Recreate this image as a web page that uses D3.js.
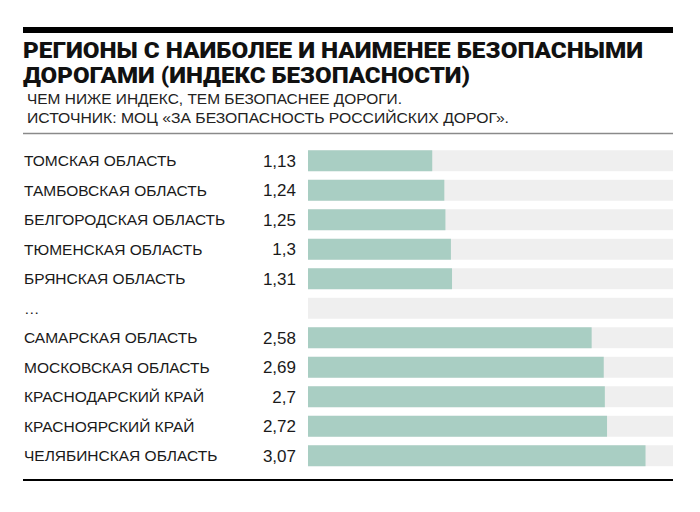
<!DOCTYPE html>
<html>
<head>
<meta charset="utf-8">
<script src="https://cdn.jsdelivr.net/npm/d3@7"></script>
<style>
  body { margin: 0; background: #fff; }
  svg { display: block; }
</style>
</head>
<body>
<div id="chart"></div>
<script>
// Chart data
const regions = [
  "ТОМСКАЯ ОБЛАСТЬ",
  "ТАМБОВСКАЯ ОБЛАСТЬ",
  "БЕЛГОРОДСКАЯ ОБЛАСТЬ",
  "ТЮМЕНСКАЯ ОБЛАСТЬ",
  "БРЯНСКАЯ ОБЛАСТЬ",
  "...",
  "САМАРСКАЯ ОБЛАСТЬ",
  "МОСКОВСКАЯ ОБЛАСТЬ",
  "КРАСНОДАРСКИЙ КРАЙ",
  "КРАСНОЯРСКИЙ КРАЙ",
  "ЧЕЛЯБИНСКАЯ ОБЛАСТЬ"
];
const values = [1.13, 1.24, 1.25, 1.3, 1.31, null, 2.58, 2.69, 2.7, 2.72, 3.07];
const titleLines = [
  "РЕГИОНЫ С НАИБОЛЕЕ И НАИМЕНЕЕ БЕЗОПАСНЫМИ",
  "ДОРОГАМИ (ИНДЕКС БЕЗОПАСНОСТИ)"
];
const subtitleLines = [
  "ЧЕМ НИЖЕ ИНДЕКС, ТЕМ БЕЗОПАСНЕЕ ДОРОГИ.",
  "ИСТОЧНИК: МОЦ «ЗА БЕЗОПАСНОСТЬ РОССИЙСКИХ ДОРОГ»."
];

const width = 700, height = 512;
const left = 23, right = 673;

const svg = d3.select("#chart").append("svg")
  .attr("width", width)
  .attr("height", height);

// top thick rule, drawn as a filled path
svg.append("path")
  .attr("d", `M${left},27H${right}V33H${left}Z`)
  .attr("fill", "#000");

// title (heavy, squeezed to the width of the original)
const titleWidths = [620, 447];
svg.selectAll("text.title")
  .data(titleLines)
  .enter().append("text")
  .attr("class", "title")
  .attr("x", left)
  .attr("y", (d, i) => 58 + i * 24.5)
  .attr("textLength", (d, i) => titleWidths[i])
  .attr("lengthAdjust", "spacingAndGlyphs")
  .style("font-family", "Roboto, 'Liberation Sans', sans-serif")
  .style("font-weight", 900)
  .style("font-size", "22px")
  .attr("fill", "#111")
  .text(d => d);

const subWidths = [375, 482];
svg.selectAll("text.sub")
  .data(subtitleLines)
  .enter().append("text")
  .attr("class", "sub")
  .attr("x", 27)
  .attr("y", (d, i) => 103.5 + i * 19.5)
  .attr("textLength", (d, i) => subWidths[i])
  .attr("lengthAdjust", "spacingAndGlyphs")
  .style("font-family", "'Liberation Sans', Arial, sans-serif")
  .style("font-size", "15.5px")
  .attr("fill", "#222")
  .text(d => d);

// thin gray rule
svg.append("line")
  .attr("x1", left).attr("x2", right)
  .attr("y1", 133.5).attr("y2", 133.5)
  .attr("stroke", "#8a8a8a")
  .attr("stroke-width", 1.5);

// scales
const y = d3.scaleBand()
  .domain(d3.range(regions.length))
  .range([146, 146 + regions.length * 29.5])
  .paddingInner(0.29)
  .paddingOuter(0.145);

const x = d3.scaleLinear()
  .domain([0, 3.32])
  .range([308, right]);

const rows = svg.selectAll("g.row")
  .data(regions)
  .enter().append("g")
  .attr("class", "row");

// background track
rows.append("rect")
  .attr("x", x(0))
  .attr("y", (d, i) => y(i))
  .attr("width", x(3.32) - x(0))
  .attr("height", y.bandwidth())
  .attr("fill", "#efefef");

// value bar
rows.filter((d, i) => values[i] != null)
  .append("rect")
  .attr("x", x(0))
  .attr("y", (d) => y(regions.indexOf(d)))
  .attr("width", (d) => x(values[regions.indexOf(d)]) - x(0))
  .attr("height", y.bandwidth())
  .attr("fill", "#a9cec3");

// region label
rows.append("text")
  .attr("x", left + 1)
  .attr("y", (d, i) => y(i) + y.bandwidth() / 2)
  .attr("dy", "0.36em")
  .style("font-family", "'Liberation Sans', Arial, sans-serif")
  .style("font-size", "15.5px")
  .attr("fill", "#1a1a1a")
  .text(d => d === "..." ? "…" : d);

// value label
const fmt = v => String(v).replace(".", ",");
rows.filter((d, i) => values[i] != null)
  .append("text")
  .attr("x", 296)
  .attr("y", (d) => y(regions.indexOf(d)) + y.bandwidth() / 2)
  .attr("dy", "0.36em")
  .attr("text-anchor", "end")
  .style("font-family", "'Liberation Sans', Arial, sans-serif")
  .style("font-size", "17px")
  .attr("fill", "#1a1a1a")
  .text(d => fmt(values[regions.indexOf(d)]));

// bottom rule
svg.append("line")
  .attr("x1", left).attr("x2", right)
  .attr("y1", 480).attr("y2", 480)
  .attr("stroke", "#000")
  .attr("stroke-width", 2);
</script>
</body>
</html>
